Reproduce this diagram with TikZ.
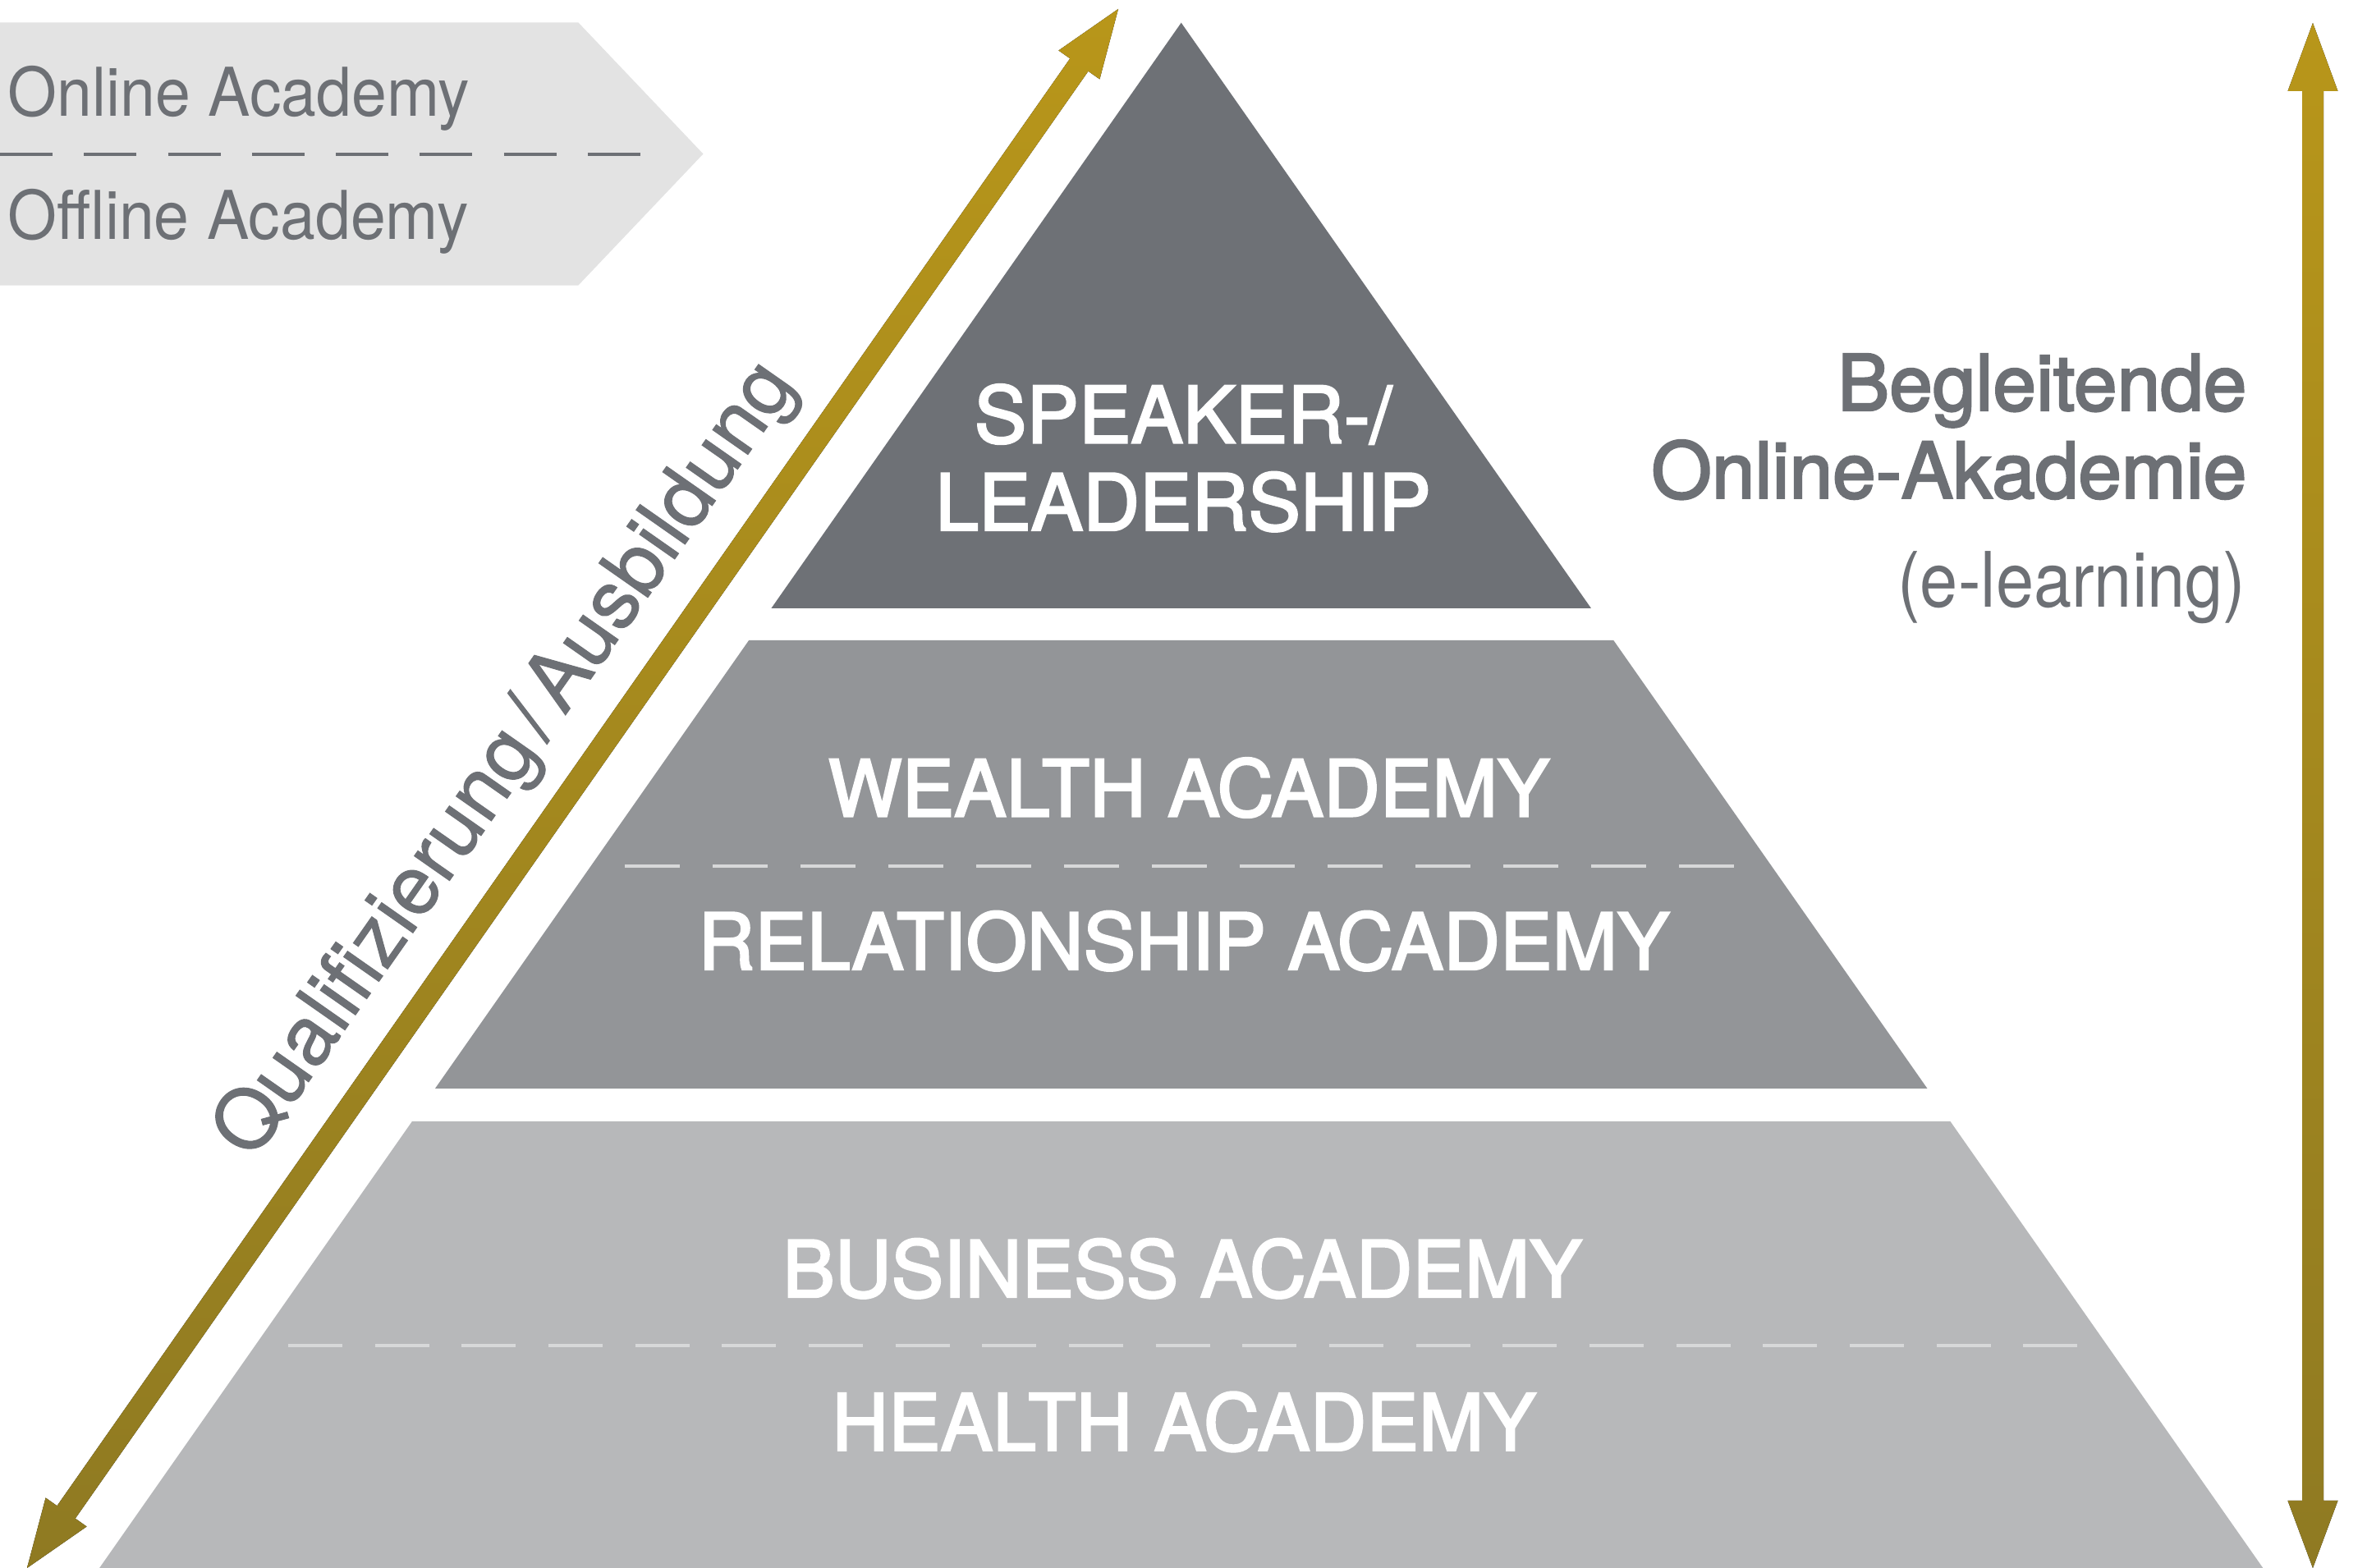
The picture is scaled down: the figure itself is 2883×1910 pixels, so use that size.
\documentclass[tikz,border=0pt]{standalone}
\usepackage{fontspec}
\usepackage{graphicx}
\setmainfont{TeX Gyre Heros}
\newfontfamily\medfont[FakeBold=2.6]{TeX Gyre Heros}
\newfontfamily\bookfont[FakeBold=1.0]{TeX Gyre Heros}
\definecolor{tierA}{HTML}{6E7176}
\definecolor{tierB}{HTML}{939598}
\definecolor{tierC}{HTML}{B7B8BA}
\definecolor{boxgray}{HTML}{E3E3E3}
\definecolor{txtgray}{HTML}{6D7075}
\definecolor{dashlight}{HTML}{D7D8D9}
\definecolor{goldtop}{HTML}{B8961A}
\definecolor{goldbot}{HTML}{8F7A22}
\begin{document}
\begin{tikzpicture}[x=0.01cm,y=-0.01cm,
  lbl/.style={inner sep=0pt, anchor=base, text=white, font=\medfont\fontsize{27.1pt}{30pt}\selectfont},
  sidetxt/.style={inner sep=0pt, anchor=base east, text=txtgray, font=\medfont\fontsize{26.9pt}{30pt}\selectfont},
  lighttxt/.style={inner sep=0pt, text=txtgray, font=\fontsize{23.3pt}{26pt}\selectfont},
  golden/.style={top color=goldtop, bottom color=goldbot, draw=none},
  pyrdash/.style={draw=dashlight, line width=0.04cm, dash pattern=on 0.67cm off 0.40cm},
  boxdash/.style={draw=txtgray, line width=0.045cm, dash pattern=on 0.64cm off 0.382cm}]
\useasboundingbox (0,0) rectangle (2883,1910);

% left box
\fill[boxgray] (0,27.3) -- (704.3,27.3) -- (856.5,187.5) -- (704.3,347.7) -- (0,347.7) -- cycle;
\coordinate (bd1) at (0,188);
\coordinate (bd2) at (781,188);
\draw[boxdash] (bd1) -- (bd2);
\node[lighttxt, anchor=base west] (online) at (9,141.7) {\scalebox{0.94}[1]{Online Academy}};
\node[lighttxt, anchor=base west] (offline) at (9,291.7) {\scalebox{0.94}[1]{Offline Academy}};

% pyramid
\fill[tierA] (1438.7,27.7) -- (1938.0,741) -- (939.4,741) -- cycle;
\fill[tierB] (912.1,780) -- (1965.3,780) -- (2347.5,1326) -- (529.9,1326) -- cycle;
\fill[tierC] (501.9,1366) -- (2375.5,1366) -- (2756.3,1910) -- (121.1,1910) -- cycle;

\coordinate (md1) at (760.7,1055);
\coordinate (md2) at (2118,1055);
\draw[pyrdash] (md1) -- (md2);
\coordinate (bd3) at (351,1639);
\coordinate (bd4) at (2530,1639);
\draw[pyrdash, dash pattern=on 0.66cm off 0.396cm] (bd3) -- (bd4);

\node[lbl] (speaker) at (1441,539.3) {SPEAKER-/};
\node[lbl] (leader) at (1441,646) {LEADERSHIP};
\node[lbl] (wealth) at (1448,994.3) {WEALTH ACADEMY};
\node[lbl] (relat) at (1442,1181) {RELATIONSHIP ACADEMY};
\node[lbl] (business) at (1440,1580) {BUSINESS ACADEMY};
\node[lbl] (health) at (1442,1766.7) {HEALTH ACADEMY};

% left diagonal double arrow
\coordinate (ltop) at (1362,11);
\coordinate (lbot) at (33,1910);
\fill[golden] (ltop) -- (1339.4,96.5) -- (1325.5,86.7) -- (91.7,1849.7) -- (105.6,1859.5)
  -- (lbot) -- (55.6,1824.5) -- (69.5,1834.3) -- (1303.3,71.3) -- (1289.4,61.5) -- cycle;
\node[inner sep=0pt, anchor=base, rotate=55, text=txtgray, font=\bookfont\fontsize{28.4pt}{30pt}\selectfont] (quali) at (639.3,941.6) {Qualifizierung\hspace{0.12em}/\hspace{0.12em}Ausbildung};

% right vertical double arrow
\coordinate (rtop) at (2817,28);
\coordinate (rbot) at (2817,1910);
\fill[golden] (rtop) -- (2847.5,111) -- (2830,111) -- (2830,1828) -- (2847.5,1828) -- (rbot)
  -- (2786.5,1828) -- (2804,1828) -- (2804,111) -- (2786.5,111) -- cycle;

\node[sidetxt] (beg) at (2737,500) {Begleitende};
\node[sidetxt] (oak) at (2737,606.7) {Online-Akademie};
\node[inner sep=0pt, anchor=base east, text=txtgray, font=\fontsize{26.5pt}{30pt}\selectfont] (elearn) at (2736,740) {\scalebox{0.89}[1]{(e-learning)}};
\end{tikzpicture}
\end{document}
